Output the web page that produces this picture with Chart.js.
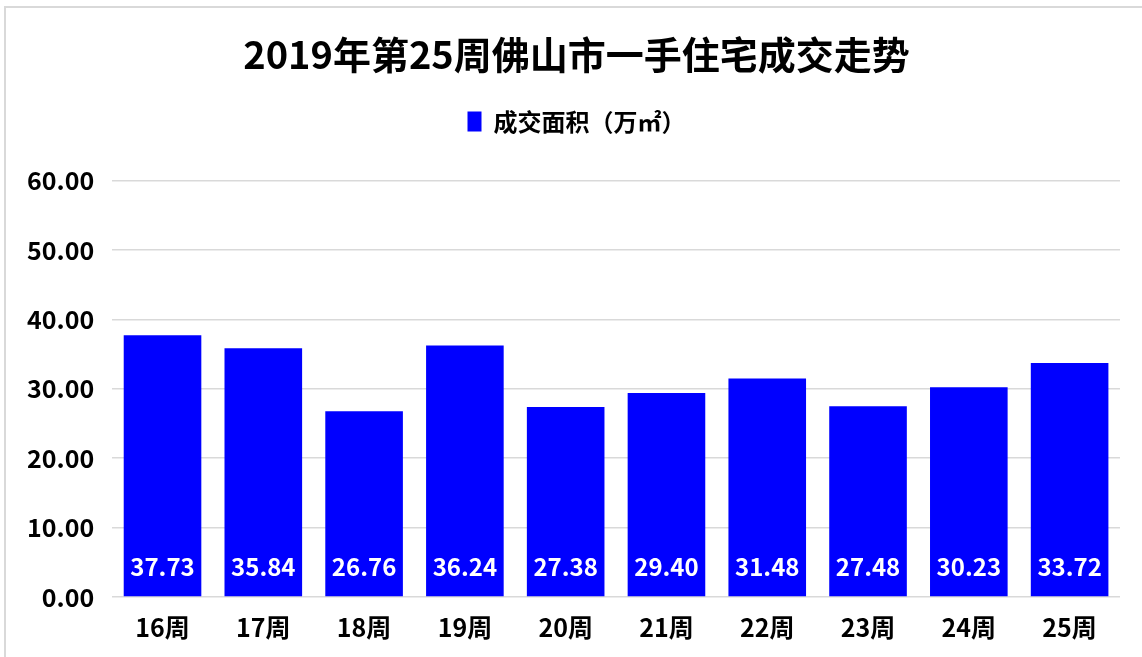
<!DOCTYPE html>
<html>
<head>
<meta charset="utf-8">
<script src="https://cdn.jsdelivr.net/npm/chart.js@4/dist/chart.umd.min.js"></script>
<style>
  html, body { margin: 0; padding: 0; background: #fff; overflow: hidden; }
  #wrap { position: absolute; left: 0; top: 0; width: 1142px; height: 657px; }
</style>
</head>
<body>
<div id="wrap"><canvas id="myChart" width="1142" height="657"></canvas></div>
<script>
// data
const weeks = ['16周', '17周', '18周', '19周', '20周', '21周', '22周', '23周', '24周', '25周'];
const area = [37.73, 35.84, 26.76, 36.24, 27.38, 29.40, 31.48, 27.48, 30.23, 33.72];
const seriesName = '成交面积（万㎡）';
const chartTitle = '2019年第25周佛山市一手住宅成交走势';

const FONT = "'Noto Sans CJK SC', 'Noto Sans', sans-serif";

// light grey frame round the chart
const frame = {
  id: 'frame',
  beforeDraw(chart) {
    const c = chart.ctx;
    c.save();
    c.fillStyle = '#fff';
    c.fillRect(0, 0, chart.width, chart.height);
    c.strokeStyle = '#d9d9d9';
    c.lineWidth = 2;
    c.strokeRect(5, 7, chart.width + 10, chart.height + 10);
    c.restore();
  }
};

// title and legend sit a little right of the plot centre in the original
const nudgeTop = {
  id: 'nudgeTop',
  afterLayout(chart) {
    [chart.titleBlock, chart.legend].forEach((b) => {
      if (!b) return;
      b.left += 12;
      b.right += 12;
    });
  }
};

// white value labels near the bottom of each bar
const barLabels = {
  id: 'barLabels',
  afterDatasetsDraw(chart) {
    const c = chart.ctx;
    const meta = chart.getDatasetMeta(0);
    const y0 = chart.scales.y.getPixelForValue(0);
    c.save();
    c.fillStyle = '#fff';
    c.font = 'bold 24px ' + FONT;
    c.textAlign = 'center';
    c.textBaseline = 'middle';
    meta.data.forEach((bar, i) => {
      c.fillText(area[i].toFixed(2), bar.x, y0 - 30);
    });
    c.restore();
  }
};

const ctx = document.getElementById('myChart').getContext('2d');
const myChart = new Chart(ctx, {
  type: 'bar',
  data: {
    labels: weeks,
    datasets: [{
      label: seriesName,
      data: area,
      backgroundColor: '#0000ff',
      borderWidth: 0,
      categoryPercentage: 1,
      barPercentage: 0.77
    }]
  },
  options: {
    responsive: false,
    animation: false,
    layout: { padding: { left: 9, right: 22, top: 0, bottom: 8 } },
    plugins: {
      title: {
        display: true,
        text: chartTitle,
        color: '#000',
        font: { family: FONT, size: 38, weight: 'bold' },
        padding: { top: 32, bottom: 22 }
      },
      legend: {
        display: true,
        labels: {
          color: '#000',
          font: { family: FONT, size: 24, weight: 'bold' },
          boxWidth: 14,
          boxHeight: 20,
          padding: 10
        }
      },
      tooltip: { enabled: false }
    },
    scales: {
      x: {
        grid: { display: false },
        border: { display: false },
        ticks: {
          color: '#000',
          font: { family: FONT, size: 25, weight: 'bold' },
          padding: 7
        }
      },
      y: {
        min: 0,
        max: 60,
        grid: { color: '#d9d9d9', lineWidth: 1.5, drawTicks: false },
        border: { display: false },
        ticks: {
          stepSize: 10,
          color: '#000',
          font: { family: FONT, size: 25, weight: 'bold' },
          padding: 18,
          callback: (v) => Number(v).toFixed(2)
        }
      }
    }
  },
  plugins: [frame, nudgeTop, barLabels]
});

// extra room between the legend and the plot
const legendFit = myChart.legend.fit;
myChart.legend.fit = function () {
  legendFit.call(this);
  this.height += 37;
};
myChart.update();
</script>
</body>
</html>
